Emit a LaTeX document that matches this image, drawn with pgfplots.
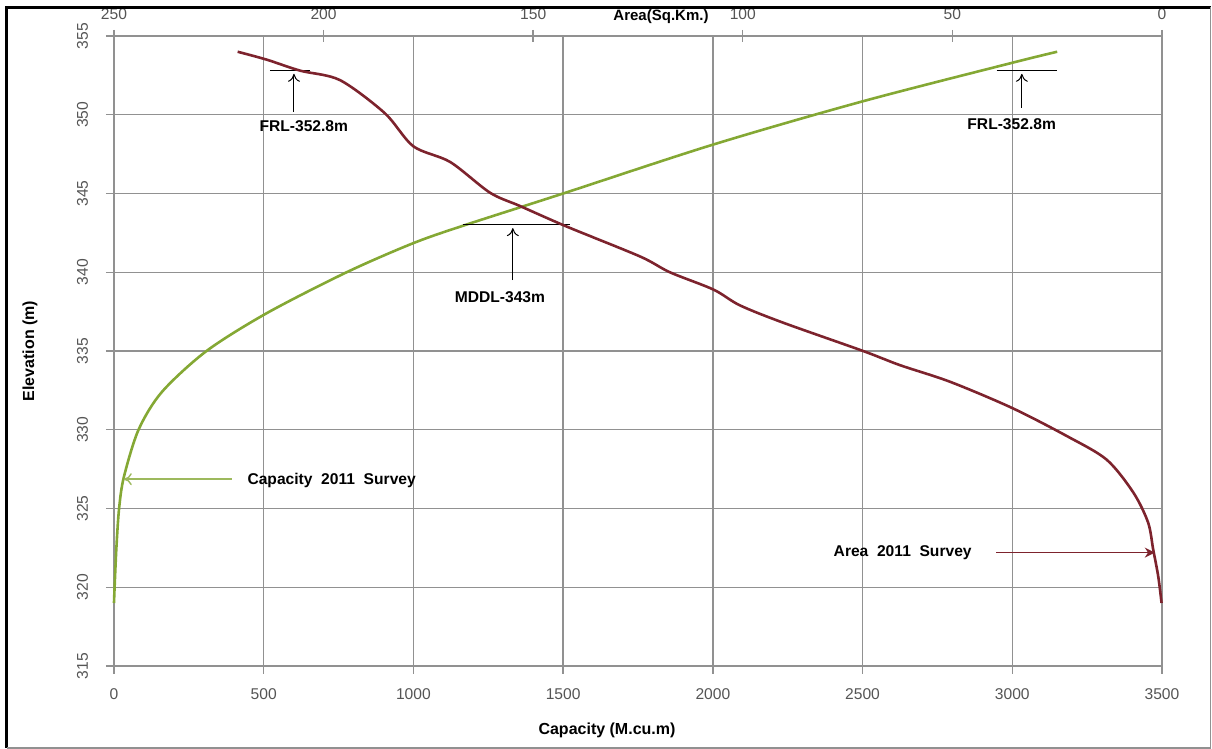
\documentclass[border=0pt]{standalone}
\usepackage{pgfplots}
\pgfplotsset{compat=1.18}
\usepackage{fontspec}
\setmainfont{Liberation Sans}
\usetikzlibrary{arrows.meta}
\definecolor{capgreen}{RGB}{132,168,52}
\definecolor{areared}{RGB}{125,35,45}
\definecolor{gridgray}{RGB}{145,145,145}
\definecolor{ticktext}{RGB}{85,85,85}
\begin{document}
\begin{tikzpicture}
\useasboundingbox (-57pt,-41.5pt) rectangle (549pt,333pt);
\begin{axis}[
  name=cap, at={(0,0)}, anchor=south west,
  scale only axis, width=524pt, height=315pt,
  xmin=0, xmax=3500, ymin=315, ymax=355,
  xtick={0,500,...,3500}, ytick={315,320,...,355},
  axis x line*=bottom, axis y line*=left,
  grid=major, grid style={gridgray, line width=0.7pt},
  axis line style={gridgray, line width=0.7pt},
  tick style={gridgray, line width=0.7pt},
  tick align=outside, major tick length=4pt,
  /pgf/number format/.cd, 1000 sep={}, assume math mode=true, /pgfplots/.cd,
  ticklabel style={font=\fontsize{7.8}{9}\selectfont, text=ticktext},
  xticklabel shift=4pt,
  yticklabel style={rotate=90, anchor=south},
  yticklabel shift=5.5pt,
  clip=false,
]
% Capacity 2011 Survey (elevation vs capacity)
\addplot[capgreen, line width=1.3pt, smooth, tension=0.5] coordinates {
  (0,319.0) (2,320) (8,322.5) (17,325) (33,327) (82,330) (160,332.4)
  (309,335) (510,337.4) (777,340) (1000,341.85) (1173,343) (1500,345)
  (2000,348.1) (2500,350.85) (3000,353.3) (3150,354.0)
};
% annotations
\draw[black, line width=0.5pt] (521,352.8) -- (654,352.8);
\draw[black, line width=0.5pt, -{To[length=4pt,width=6pt]}] (601,350.2) -- (601,352.6);
\node[font=\bfseries\fontsize{7.8}{9}\selectfont] at (634,349.25) {FRL-352.8m};
\draw[black, line width=0.5pt] (2948,352.8) -- (3149,352.8);
\draw[black, line width=0.5pt, -{To[length=4pt,width=6pt]}] (3032,350.45) -- (3032,352.6);
\node[font=\bfseries\fontsize{7.8}{9}\selectfont] at (2998,349.4) {FRL-352.8m};
\draw[black, line width=0.5pt] (1165,343) -- (1523,343);
\draw[black, line width=0.5pt, -{To[length=4pt,width=6pt]}] (1332,339.5) -- (1332,342.8);
\node[font=\bfseries\fontsize{7.8}{9}\selectfont] at (1289,338.4) {MDDL-343m};
\draw[capgreen!80, line width=0.7pt, -{To[length=4pt,width=6pt]}] (393,326.86) -- (33,326.86);
\node[font=\bfseries\fontsize{7.8}{9}\selectfont] at (727,326.8) {Capacity\ \ 2011\ \ Survey};
\draw[areared, line width=0.9pt, -{Stealth[length=5pt,width=5pt]}] (2947,322.2) -- (3476,322.2);
\node[font=\bfseries\fontsize{7.8}{9}\selectfont] at (2634,322.2) {Area\ \ 2011\ \ Survey};
\end{axis}
\begin{axis}[
  at={(0,0)}, anchor=south west,
  scale only axis, width=524pt, height=315pt,
  xmin=0, xmax=250, ymin=315, ymax=355, x dir=reverse,
  axis x line*=top, axis y line=none,
  xtick={0,50,...,250},
  axis line style={gridgray, line width=0.7pt},
  tick style={gridgray, line width=0.7pt},
  tick align=center, major tick length=6pt,
  /pgf/number format/.cd, 1000 sep={}, assume math mode=true, /pgfplots/.cd,
  ticklabel style={font=\fontsize{7.8}{9}\selectfont, text=ticktext},
  xticklabel shift=1.5pt,
  clip=false,
]
% Area 2011 Survey (elevation vs area)
\addplot[areared, line width=1.3pt, smooth, tension=0.5] coordinates {
  (220.5,354.0) (213.6,353.5) (205.6,352.8) (196.1,352.2) (185.4,350.1)
  (178.6,348.0) (169.8,347.0) (160.3,345.05) (153.1,344.2) (142,342.9)
  (124.5,341.0) (117.4,340.0) (107,338.9) (100.7,337.9) (90.4,336.8)
  (71.3,335.0) (62.5,334.1) (50.6,333.05) (35.9,331.4) (22.7,329.6)
  (13.2,328.1) (6.8,326.0) (3.3,324.1) (2.1,322.4) (0.9,320.7) (0.1,319.0)
};
\end{axis}
\node[font=\bfseries\fontsize{7.5}{9}\selectfont] at (273.5pt,324.5pt) {Area(Sq.Km.)};
\node[font=\bfseries\fontsize{8}{9}\selectfont] at (246.5pt,-32pt) {Capacity (M.cu.m)};
\node[font=\bfseries\fontsize{8}{9}\selectfont, rotate=90] at (-42pt,157.5pt) {Elevation (m)};
\draw[black, line width=1.5pt] (-53.5pt,-41pt) -- (-53.5pt,329.25pt) -- (548.25pt,329.25pt);
\draw[gridgray, line width=0.6pt] (548.25pt,329.25pt) -- (548.25pt,-41pt) -- (-53.5pt,-41pt);
\end{tikzpicture}
\end{document}
